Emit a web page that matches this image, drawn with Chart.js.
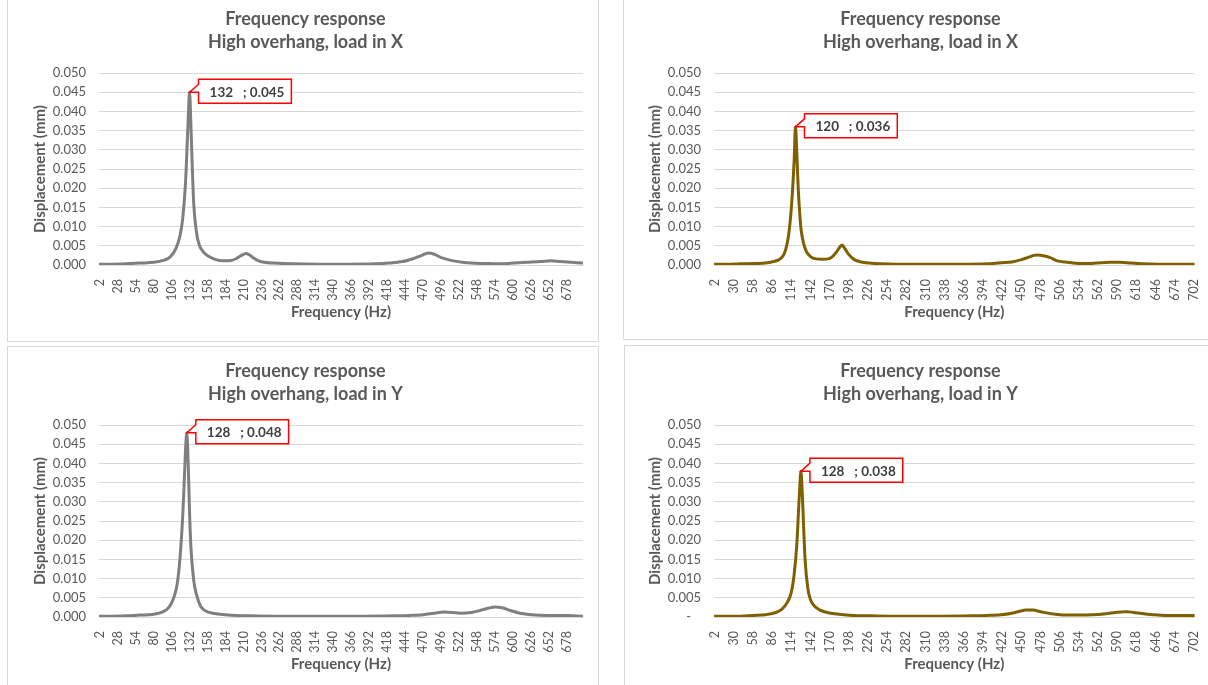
<!DOCTYPE html>
<html>
<head>
<meta charset="utf-8">
<script src="https://cdn.jsdelivr.net/npm/chart.js@4.4.1/dist/chart.umd.min.js"></script>
<style>
  body { margin: 0; background: #fff; overflow: hidden; width: 1208px; height: 685px; position: relative; }
  .panel { position: absolute; border: 1px solid #d9d9d9; box-sizing: border-box; }
  canvas { position: absolute; }
</style>
</head>
<body>
<div class="panel" style="left:7px; top:-6px; width:592px; height:348px"></div>
<div class="panel" style="left:623px; top:-6px; width:600px; height:346px"></div>
<div class="panel" style="left:7px; top:346px; width:592px; height:350px"></div>
<div class="panel" style="left:624px; top:345px; width:600px; height:350px"></div>

<canvas id="chartGreyX" width="592" height="346" style="left:8px; top:-6px"></canvas>
<canvas id="chartOliveX" width="592" height="346" style="left:623px; top:-6px"></canvas>
<canvas id="chartGreyY" width="592" height="346" style="left:8px; top:346px"></canvas>
<canvas id="chartOliveY" width="592" height="346" style="left:623px; top:346px"></canvas>

<script>
// tick labels of the two frequency axes
const ticksLeft = [2, 28, 54, 80, 106, 132, 158, 184, 210, 236, 262, 288, 314, 340, 366, 392, 418, 444, 470, 496, 522, 548, 574, 600, 626, 652, 678];
const ticksRight = [2, 30, 58, 86, 114, 142, 170, 198, 226, 254, 282, 310, 338, 366, 394, 422, 450, 478, 506, 534, 562, 590, 618, 646, 674, 702];

// high overhang, load in X (grey)
const freqGreyX = [2, 20, 40, 60, 80, 94, 104, 112, 118, 122, 126, 128, 130, 132, 134, 136, 138, 142, 146, 152, 160, 170, 180, 192, 200, 206, 214, 218, 224, 232, 240, 254, 280, 320, 360, 400, 420, 440, 456, 468, 477, 486, 496, 510, 524, 540, 560, 580, 600, 620, 640, 654, 668, 684, 700];
const dispGreyX = [0.0002, 0.0002, 0.0003, 0.0005, 0.0007, 0.0012, 0.0021, 0.0042, 0.0075, 0.012, 0.021, 0.029, 0.038, 0.045, 0.036, 0.025, 0.016, 0.0085, 0.0052, 0.0034, 0.0022, 0.0014, 0.0011, 0.0012, 0.0017, 0.0024, 0.0030, 0.0027, 0.0019, 0.0011, 0.0007, 0.0005, 0.0003, 0.0002, 0.0002, 0.0003, 0.0005, 0.0009, 0.0017, 0.0025, 0.0031, 0.0028, 0.0019, 0.0012, 0.0008, 0.0005, 0.0004, 0.0003, 0.0005, 0.0007, 0.0009, 0.0011, 0.0009, 0.0007, 0.0005];

// high overhang, load in X (olive)
const freqOliveX = [2, 20, 40, 60, 76, 88, 96, 102, 106, 110, 114, 118, 120, 122, 124, 126, 128, 132, 136, 142, 150, 160, 168, 174, 180, 184, 188, 192, 198, 206, 216, 228, 244, 270, 320, 370, 400, 420, 436, 450, 460, 468, 474, 482, 492, 504, 518, 534, 552, 566, 580, 594, 610, 626, 650, 680, 702];
const dispOliveX = [0.0002, 0.0002, 0.0003, 0.0004, 0.0005, 0.0009, 0.0014, 0.0024, 0.0042, 0.0078, 0.015, 0.027, 0.036, 0.029, 0.020, 0.014, 0.0095, 0.0055, 0.0035, 0.0022, 0.0016, 0.0015, 0.0016, 0.0022, 0.0034, 0.0045, 0.0052, 0.0043, 0.0027, 0.0014, 0.0008, 0.0005, 0.0003, 0.0002, 0.0002, 0.0002, 0.0003, 0.0006, 0.0008, 0.0014, 0.0020, 0.0025, 0.0026, 0.0024, 0.0019, 0.0010, 0.0007, 0.0004, 0.0004, 0.0006, 0.0007, 0.0007, 0.0005, 0.0003, 0.0002, 0.0002, 0.0002];

// high overhang, load in Y (grey)
const freqGreyY = [2, 20, 40, 60, 80, 94, 102, 108, 114, 118, 122, 124, 126, 128, 130, 132, 134, 138, 142, 148, 156, 168, 184, 200, 220, 260, 320, 380, 430, 450, 470, 486, 500, 512, 524, 540, 552, 564, 574, 584, 596, 610, 626, 650, 680, 700];
const dispGreyY = [0.0002, 0.0002, 0.0003, 0.0005, 0.0007, 0.0014, 0.0025, 0.0045, 0.0085, 0.015, 0.026, 0.034, 0.043, 0.048, 0.040, 0.027, 0.018, 0.0095, 0.0058, 0.0028, 0.0015, 0.0009, 0.0006, 0.0004, 0.0003, 0.0002, 0.0002, 0.0002, 0.0003, 0.0004, 0.0006, 0.0010, 0.0013, 0.0012, 0.0010, 0.0012, 0.0017, 0.0023, 0.0026, 0.0024, 0.0017, 0.0010, 0.0006, 0.0004, 0.0004, 0.0002];

// high overhang, load in Y (olive)
const freqOliveY = [2, 20, 40, 58, 76, 90, 100, 108, 114, 118, 122, 124, 126, 128, 130, 132, 134, 138, 142, 148, 156, 168, 184, 204, 230, 270, 330, 380, 400, 420, 436, 448, 456, 466, 480, 496, 514, 534, 554, 570, 584, 596, 604, 614, 626, 642, 660, 680, 702];
const dispOliveY = [0.0002, 0.0002, 0.0002, 0.0004, 0.0006, 0.0011, 0.0020, 0.0038, 0.0065, 0.011, 0.019, 0.026, 0.033, 0.038, 0.032, 0.023, 0.015, 0.0075, 0.0045, 0.0028, 0.0018, 0.0011, 0.0007, 0.0004, 0.0003, 0.0002, 0.0002, 0.0003, 0.0004, 0.0006, 0.0010, 0.0015, 0.0018, 0.0018, 0.0013, 0.0008, 0.0005, 0.0005, 0.0006, 0.0008, 0.0011, 0.0013, 0.0014, 0.0012, 0.0009, 0.0006, 0.0004, 0.0004, 0.0004];

const FONT = 'Lato, "Open Sans", sans-serif';
const TEXT = '#595959';

// red callout pointing at the highest point of the curve
const peakLabel = {
    id: 'peakLabel',
    afterDatasetsDraw(chart) {
        const pts = chart.data.datasets[0].data;
        let top = pts[0];
        pts.forEach(p => { if (p.y > top.y) top = p; });
        const x = chart.scales.x.getPixelForValue(top.x);
        const y = chart.scales.y.getPixelForValue(top.y);
        const ctx = chart.ctx;
        const text = top.x + '   ; ' + top.y.toFixed(3);
        ctx.save();
        ctx.font = 'bold 13.5px ' + FONT;
        const w = ctx.measureText(text).width + 18;
        const h = 24;
        const bx = x + 9, by = y - 13;
        ctx.beginPath();
        ctx.moveTo(bx, by);
        ctx.lineTo(bx + w, by);
        ctx.lineTo(bx + w, by + h);
        ctx.lineTo(bx, by + h);
        ctx.lineTo(bx, by + 13);
        ctx.lineTo(x, y);
        ctx.lineTo(bx, by + 5);
        ctx.closePath();
        ctx.fillStyle = '#fff';
        ctx.fill();
        ctx.strokeStyle = '#ff0000';
        ctx.lineWidth = 1.5;
        ctx.stroke();
        ctx.fillStyle = '#404040';
        ctx.textBaseline = 'middle';
        ctx.fillText(text, bx + 11, by + h / 2 + 1);
        ctx.restore();
    }
};

function makeChart(id, freq, disp, ticks, xMax, color, subtitle, dashZero) {
    new Chart(document.getElementById(id), {
        type: 'line',
        data: {
            datasets: [{
                data: freq.map((f, i) => ({ x: f, y: disp[i] })),
                borderColor: color,
                borderWidth: 3,
                pointRadius: 0,
                borderCapStyle: 'round',
                borderJoinStyle: 'round',
                cubicInterpolationMode: 'monotone'
            }]
        },
        options: {
            responsive: false,
            animation: false,
            devicePixelRatio: 1,
            layout: { padding: { left: 20, right: 17, top: 0, bottom: 0 } },
            plugins: {
                legend: { display: false },
                tooltip: { enabled: false },
                title: {
                    display: true,
                    text: ['Frequency response', subtitle],
                    color: TEXT,
                    font: { family: FONT, size: 18, weight: 'bold', lineHeight: 1.28 },
                    padding: { top: 14, bottom: 19 }
                }
            },
            scales: {
                x: {
                    type: 'linear',
                    min: 1,
                    max: xMax,
                    afterBuildTicks: s => { s.ticks = ticks.map(v => ({ value: v })); },
                    afterFit: s => { s.height = 75; },
                    grid: { display: false },
                    border: { display: true, color: '#d9d9d9' },
                    ticks: {
                        autoSkip: false,
                        minRotation: 90,
                        maxRotation: 90,
                        padding: 6,
                        color: TEXT,
                        font: { family: FONT, size: 12.5 },
                        callback: v => String(v)
                    },
                    title: {
                        display: true,
                        text: 'Frequency (Hz)',
                        color: TEXT,
                        font: { family: FONT, size: 15, weight: 'bold', lineHeight: 1.2 },
                        padding: { top: 0, bottom: 19 }
                    }
                },
                y: {
                    min: 0,
                    max: 0.05,
                    afterFit: s => { s.width = 71; },
                    grid: { color: '#d9d9d9', drawTicks: false },
                    border: { display: false },
                    ticks: {
                        stepSize: 0.005,
                        padding: 13,
                        color: TEXT,
                        font: { family: FONT, size: 13 },
                        callback: v => (dashZero && Math.abs(v) < 1e-9) ? '-   ' : v.toFixed(3)
                    },
                    title: {
                        display: true,
                        text: 'Displacement (mm)',
                        color: TEXT,
                        font: { family: FONT, size: 15, weight: 'bold', lineHeight: 1.2 },
                        padding: { top: 3, bottom: 0 }
                    }
                }
            }
        },
        plugins: [peakLabel]
    });
}

makeChart('chartGreyX', freqGreyX, dispGreyX, ticksLeft, 701, '#7f7f7f', 'High overhang, load in X', false);
makeChart('chartOliveX', freqOliveX, dispOliveX, ticksRight, 703, '#7f6000', 'High overhang, load in X', false);
makeChart('chartGreyY', freqGreyY, dispGreyY, ticksLeft, 701, '#7f7f7f', 'High overhang, load in Y', false);
makeChart('chartOliveY', freqOliveY, dispOliveY, ticksRight, 703, '#7f6000', 'High overhang, load in Y', true);
</script>
</body>
</html>
